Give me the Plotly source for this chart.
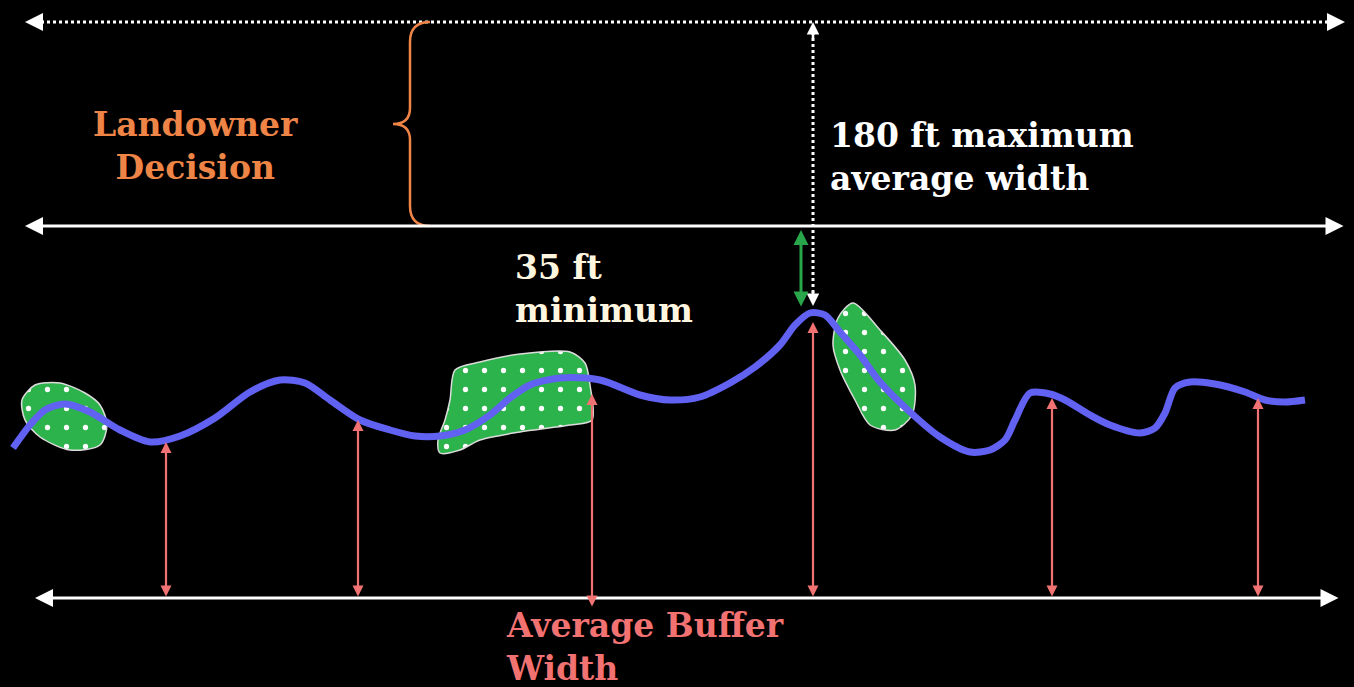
import plotly.graph_objects as go

W, H = 1354, 687

# --- data (pixel-space diagram coordinates, y grows downward) ---
stream_x = [13, 30, 45, 65, 90, 120, 150, 180, 215, 250, 280, 305, 330, 360, 390, 415, 440, 465, 490, 510, 530, 560, 600, 640, 670, 700, 730, 755, 780, 795, 810, 825, 840, 860, 880, 910, 940, 970, 990, 1005, 1015, 1030, 1050, 1065, 1090, 1110, 1140, 1155, 1165, 1175, 1190, 1215, 1245, 1265, 1285, 1305]
stream_y = [448, 425, 410, 404, 412, 430, 442, 436, 418, 392, 380, 383, 400, 420, 430, 436, 436, 430, 415, 398, 385, 378, 380, 395, 400, 397, 383, 367, 345, 325, 313, 315, 332, 355, 382, 412, 437, 452, 450, 440, 420, 393, 394, 400, 415, 425, 433, 428, 413, 388, 382, 384, 392, 400, 402, 400]

blob1_x = [35, 60, 85, 100, 107, 100, 70, 40, 25, 22, 35]
blob1_y = [385, 383, 393, 405, 425, 445, 450, 437, 420, 400, 385]
blob2_x = [455, 480, 520, 570, 585, 590, 592, 570, 520, 480, 460, 440, 438, 445, 450, 455]
blob2_y = [370, 362, 354, 352, 363, 385, 420, 425, 432, 440, 450, 453, 440, 420, 400, 370]
blob3_x = [853, 880, 905, 915, 912, 895, 870, 855, 840, 833, 838, 853]
blob3_y = [303, 330, 360, 385, 415, 430, 425, 400, 370, 345, 318, 303]

buffer_x = [166, 358, 592, 813, 1052, 1258]
buffer_top = [442, 420, 394, 322, 398, 398]
buffer_bottom = [598, 598, 608, 598, 598, 598]

top_line_y = 22
mid_line_y = 226
base_line_y = 598

fig = go.Figure()

# green buffer patches
for bx, by in [(blob1_x, blob1_y), (blob2_x, blob2_y), (blob3_x, blob3_y)]:
    fig.add_trace(go.Scatter(
        x=bx, y=by, mode="lines", line=dict(color="#dcdcdc", width=1.5, shape="spline", smoothing=0.8),
        fill="toself", fillcolor="#2DB34C",
        fillpattern=dict(shape=".", fgcolor="white", bgcolor="#2DB34C", size=19, solidity=0.06, fgopacity=1),
        hoverinfo="skip", showlegend=False))

# stream
fig.add_trace(go.Scatter(x=stream_x, y=stream_y, mode="lines",
                         line=dict(color="#6161F2", width=7, shape="spline", smoothing=0.8),
                         hoverinfo="skip", showlegend=False))

# dotted top line and dotted vertical line
fig.add_trace(go.Scatter(x=[35, 1335], y=[top_line_y, top_line_y], mode="lines",
                         line=dict(color="white", width=3, dash="dot"), hoverinfo="skip", showlegend=False))
fig.add_trace(go.Scatter(x=[813, 813], y=[top_line_y + 10, 296], mode="lines",
                         line=dict(color="white", width=3, dash="dot"), hoverinfo="skip", showlegend=False))

ann = []

def arrow(x0, y0, x1, y1, color, width, side="end+start", head=2, size=1.0):
    ann.append(dict(x=x1, y=y1, ax=x0, ay=y0, xref="x", yref="y", axref="x", ayref="y",
                    text="", showarrow=True, arrowhead=head, startarrowhead=head,
                    arrowside=side, arrowwidth=width, arrowsize=size, startarrowsize=size,
                    arrowcolor=color))

# dotted arrows' heads
arrow(45, top_line_y, 25, top_line_y, "white", 3, side="end", size=1.2)
arrow(1325, top_line_y, 1345, top_line_y, "white", 3, side="end", size=1.2)
arrow(813, 40, 813, top_line_y, "white", 2.5, side="end")
arrow(813, 290, 813, 306, "white", 2.5, side="end")

# solid horizontal lines
arrow(1345, mid_line_y, 25, mid_line_y, "white", 3, size=1.2)
arrow(1340, base_line_y, 35, base_line_y, "white", 3, size=1.2)

# green minimum arrow
arrow(801, 308, 801, 230, "#2AA64A", 3)

# pink buffer width arrows
for bx, bt, bb in zip(buffer_x, buffer_top, buffer_bottom):
    arrow(bx, bb, bx, bt, "#F07272", 2.2)

# text
serif = "DejaVu Serif"
def label(x, y, txt, color, size=33, xanchor="left", align="left"):
    ann.append(dict(x=x, y=y, xref="x", yref="y", text=txt, showarrow=False,
                    xanchor=xanchor, yanchor="middle", align=align,
                    font=dict(family=serif, size=size, color=color, weight="bold")))

label(195, 146, "Landowner<br>Decision", "#EE8446", xanchor="center", align="center")
label(828, 157, "180 ft maximum<br>average width", "white")
label(513, 289, "35 ft<br>minimum", "#FFF6E0")
label(504, 647, "Average Buffer<br>Width", "#F27272")

# orange brace
shapes = [dict(type="path", xref="x", yref="y",
               path="M 430 22 Q 410 22 410 42 L 410 108 Q 410 124 393 124 Q 410 124 410 140 L 410 206 Q 410 226 430 226",
               line=dict(color="#EE8446", width=2.5))]

fig.update_layout(
    width=W, height=H, margin=dict(l=0, r=0, t=0, b=0),
    paper_bgcolor="black", plot_bgcolor="black",
    xaxis=dict(range=[0, W], visible=False, fixedrange=True),
    yaxis=dict(range=[H, 0], visible=False, fixedrange=True),
    annotations=ann, shapes=shapes, showlegend=False)

fig.write_html("out.html", config={"displayModeBar": False},
               post_script="document.body.style.margin='0';document.body.style.background='black';document.body.style.overflow='hidden';")
